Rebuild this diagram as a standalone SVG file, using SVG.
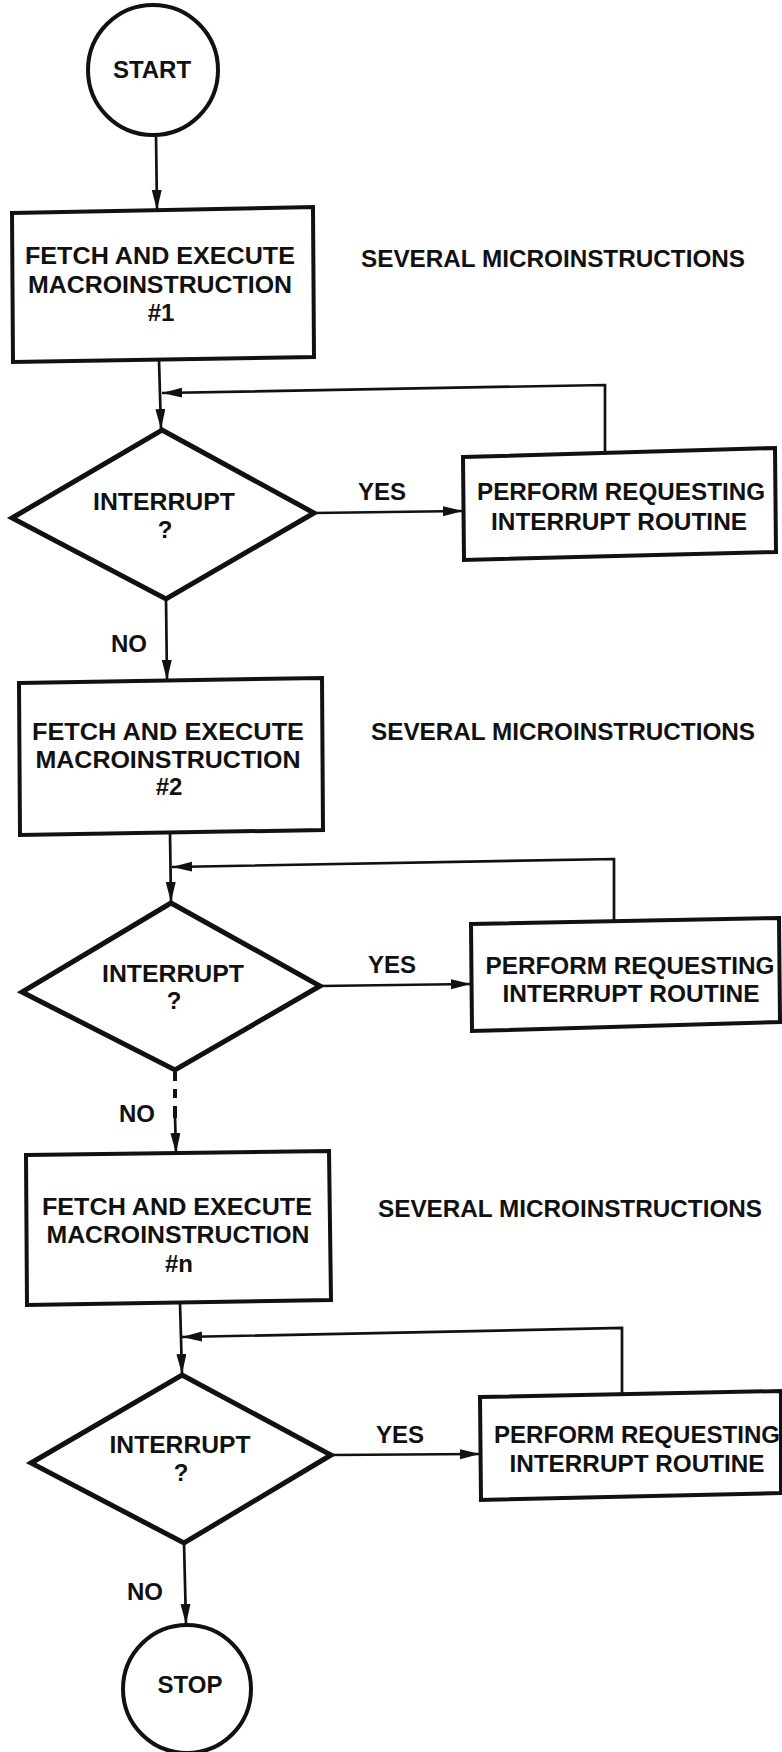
<svg xmlns="http://www.w3.org/2000/svg" width="782" height="1752" viewBox="0 0 782 1752">
<defs>
<style>
.t{font-family:"Liberation Sans",Arial,sans-serif;font-weight:bold;font-size:24px;fill:#111;text-anchor:middle}
.box{fill:none;stroke:#111;stroke-width:4;stroke-linejoin:miter}
.dia{fill:none;stroke:#111;stroke-width:5;stroke-linejoin:miter}
.circ{fill:none;stroke:#111;stroke-width:4}
.dash{fill:none;stroke:#111;stroke-width:4}
.ar{fill:none;stroke:#111;stroke-width:2.7;marker-end:url(#ah)}
</style>
<marker id="ah" markerUnits="userSpaceOnUse" markerWidth="22" markerHeight="12" refX="20" refY="5" orient="auto">
<path d="M0,0 L20,5 L0,10 Z" fill="#111"/>
</marker>
</defs>
<rect width="782" height="1752" fill="#fff"/>

<g id="connectors">
<line class="ar" x1="156" y1="135" x2="157" y2="210"/>
<line class="ar" x1="159" y1="360" x2="161" y2="429"/>
<polyline class="ar" points="605,451 605,385 162,393"/>
<line class="ar" x1="314" y1="513" x2="463" y2="511"/>
<line class="ar" x1="166" y1="599" x2="167" y2="680"/>

<line class="ar" x1="170" y1="833" x2="171" y2="902"/>
<polyline class="ar" points="614,920 614,859 172,867"/>
<line class="ar" x1="320" y1="986" x2="471" y2="984"/>
<line class="dash" x1="175" y1="1072" x2="175" y2="1081"/>
<line class="dash" x1="175" y1="1089" x2="175" y2="1098"/>
<line class="dash" x1="175" y1="1106" x2="175" y2="1118"/>
<line class="ar" x1="175" y1="1116" x2="176" y2="1153"/>

<line class="ar" x1="180" y1="1303" x2="182" y2="1374"/>
<polyline class="ar" points="622,1393 622,1328 182,1337"/>
<line class="ar" x1="331" y1="1455" x2="480" y2="1454"/>
<line class="ar" x1="184" y1="1543" x2="186" y2="1624"/>
</g>

<g id="start">
<circle class="circ" cx="153" cy="70" r="65"/>
<text class="t" x="152" y="78">START</text>
</g>

<g id="fetch1">
<polygon class="box" points="12,213 313,207 314,357 13,362"/>
<text class="t" x="160" y="264" textLength="270" lengthAdjust="spacingAndGlyphs">FETCH AND EXECUTE</text>
<text class="t" x="160" y="293" textLength="264" lengthAdjust="spacingAndGlyphs">MACROINSTRUCTION</text>
<text class="t" x="161" y="321">#1</text>
</g>
<text id="micro1" class="t" x="553" y="267" textLength="384" lengthAdjust="spacingAndGlyphs">SEVERAL MICROINSTRUCTIONS</text>

<g id="decision1">
<polygon class="dia" points="162,430 314,513 166,599 12,518"/>
<text class="t" x="164" y="510" textLength="142" lengthAdjust="spacingAndGlyphs">INTERRUPT</text>
<text class="t" x="165" y="538">?</text>
</g>
<text id="yes1" class="t" x="382" y="500">YES</text>
<text id="no1" class="t" x="129" y="652">NO</text>

<g id="interrupt1">
<polygon class="box" points="463,457 775,448 776,552 464,560"/>
<text class="t" x="621" y="500" textLength="288" lengthAdjust="spacingAndGlyphs">PERFORM REQUESTING</text>
<text class="t" x="619" y="530" textLength="256" lengthAdjust="spacingAndGlyphs">INTERRUPT ROUTINE</text>
</g>

<g id="fetch2">
<polygon class="box" points="19,683 322,678 323,830 20,835"/>
<text class="t" x="168" y="740" textLength="272" lengthAdjust="spacingAndGlyphs">FETCH AND EXECUTE</text>
<text class="t" x="168" y="768" textLength="265" lengthAdjust="spacingAndGlyphs">MACROINSTRUCTION</text>
<text class="t" x="169" y="795">#2</text>
</g>
<text id="micro2" class="t" x="563" y="740" textLength="384" lengthAdjust="spacingAndGlyphs">SEVERAL MICROINSTRUCTIONS</text>

<g id="decision2">
<polygon class="dia" points="171,903 320,986 175,1070 22,992"/>
<text class="t" x="173" y="982" textLength="142" lengthAdjust="spacingAndGlyphs">INTERRUPT</text>
<text class="t" x="174" y="1009">?</text>
</g>
<text id="yes2" class="t" x="392" y="973">YES</text>
<text id="no2" class="t" x="137" y="1122">NO</text>

<g id="interrupt2">
<polygon class="box" points="471,924 779,918 780,1022 472,1031"/>
<text class="t" x="630" y="974" textLength="289" lengthAdjust="spacingAndGlyphs">PERFORM REQUESTING</text>
<text class="t" x="631" y="1002" textLength="257" lengthAdjust="spacingAndGlyphs">INTERRUPT ROUTINE</text>
</g>

<g id="fetchn">
<polygon class="box" points="26,1155 329,1151 331,1300 27,1305"/>
<text class="t" x="177" y="1215" textLength="270" lengthAdjust="spacingAndGlyphs">FETCH AND EXECUTE</text>
<text class="t" x="178" y="1243" textLength="263" lengthAdjust="spacingAndGlyphs">MACROINSTRUCTION</text>
<text class="t" x="179" y="1272">#n</text>
</g>
<text id="micro3" class="t" x="570" y="1217" textLength="384" lengthAdjust="spacingAndGlyphs">SEVERAL MICROINSTRUCTIONS</text>

<g id="decision3">
<polygon class="dia" points="182,1375 331,1455 184,1543 31,1463"/>
<text class="t" x="180" y="1453" textLength="141" lengthAdjust="spacingAndGlyphs">INTERRUPT</text>
<text class="t" x="181" y="1481">?</text>
</g>
<text id="yes3" class="t" x="400" y="1443">YES</text>
<text id="no3" class="t" x="145" y="1600">NO</text>

<g id="interruptn">
<polygon class="box" points="480,1397 781,1391 781,1493 481,1500"/>
<text class="t" x="637" y="1443" textLength="286" lengthAdjust="spacingAndGlyphs">PERFORM REQUESTING</text>
<text class="t" x="637" y="1472" textLength="255" lengthAdjust="spacingAndGlyphs">INTERRUPT ROUTINE</text>
</g>

<g id="stop">
<circle class="circ" cx="187" cy="1689" r="64"/>
<text class="t" x="190" y="1693">STOP</text>
</g>
</svg>
